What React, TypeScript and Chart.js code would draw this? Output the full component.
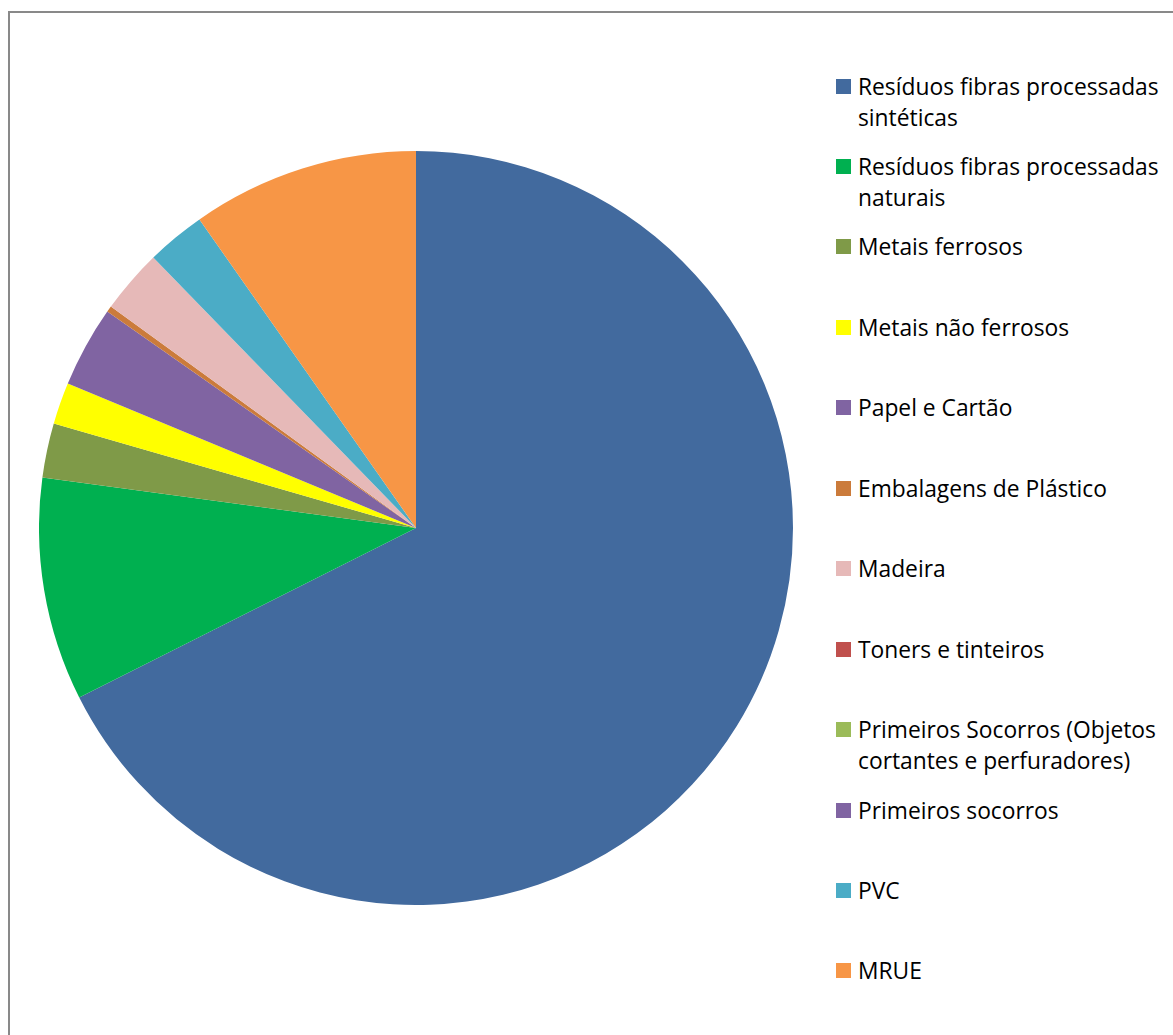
import React, { useEffect, useRef } from "react";
import { Chart, registerables } from "chart.js";

Chart.register(...registerables);

const categories: string[] = [
  "Resíduos fibras processadas sintéticas",
  "Resíduos fibras processadas naturais",
  "Metais ferrosos",
  "Metais não ferrosos",
  "Papel e Cartão",
  "Embalagens de Plástico",
  "Madeira",
  "Toners e tinteiros",
  "Primeiros Socorros (Objetos cortantes e perfuradores)",
  "Primeiros socorros",
  "PVC",
  "MRUE",
];

const shares: number[] = [67.58, 9.56, 2.33, 1.79, 3.47, 0.26, 2.74, 0, 0, 0, 2.53, 9.74];

const colors: string[] = [
  "#426A9E",
  "#00B050",
  "#7F9A48",
  "#FFFF00",
  "#8064A2",
  "#CB7B3B",
  "#E6B9B8",
  "#C0504D",
  "#9BBB59",
  "#8064A2",
  "#4BACC6",
  "#F79646",
];

const FONT = "'Open Sans', Lato, sans-serif";

export default function App() {
  const canvasRef = useRef<HTMLCanvasElement | null>(null);

  useEffect(() => {
    const canvas = canvasRef.current;
    if (!canvas) return;
    const chart = new Chart(canvas, {
      type: "pie",
      data: {
        labels: categories,
        datasets: [
          {
            data: shares,
            backgroundColor: colors,
            borderWidth: 0,
            hoverOffset: 0,
          },
        ],
      },
      options: {
        responsive: false,
        animation: false,
        layout: { padding: 0 },
        plugins: {
          legend: { display: false },
          tooltip: { enabled: false },
        },
      },
    });
    return () => chart.destroy();
  }, []);

  const fontSize = 22.8;
  const lineH = 31;
  const firstCenter = 86;
  const step = 80.45;

  return (
    <div
      style={{
        position: "fixed",
        left: 0,
        top: 0,
        width: 1173,
        height: 1035,
        overflow: "hidden",
        background: "#ffffff",
      }}
    >
      <div
        style={{
          position: "absolute",
          left: 8,
          top: 11,
          width: 1300,
          height: 1200,
          border: "2px solid #898989",
          boxSizing: "border-box",
          background: "#ffffff",
        }}
      />
      <canvas
        ref={canvasRef}
        width={754}
        height={754}
        style={{ position: "absolute", left: 39, top: 151, width: 754, height: 754 }}
      />
      {categories.map((label, i) => {
        const center = firstCenter + step * i;
        return (
          <div
            key={label}
            style={{
              position: "absolute",
              left: 836,
              top: center - lineH / 2,
              width: 345,
              display: "flex",
              alignItems: "flex-start",
            }}
          >
            <div
              style={{
                width: 15,
                height: 15,
                marginTop: (lineH - 15) / 2,
                background: colors[i],
                flex: "0 0 auto",
              }}
            />
            <div
              style={{
                marginLeft: 7,
                width: 318,
                fontFamily: FONT,
                fontSize,
                lineHeight: `${lineH}px`,
                color: "#000000",
                whiteSpace: "normal",
              }}
            >
              {label}
            </div>
          </div>
        );
      })}
    </div>
  );
}
